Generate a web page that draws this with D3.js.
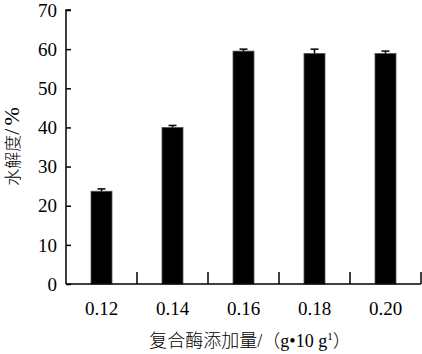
<!DOCTYPE html>
<html>
<head>
<meta charset="utf-8">
<script src="https://cdn.jsdelivr.net/npm/d3@7"></script>
<style>
  body { margin: 0; background: #fff; }
  text { font-family: "Liberation Serif", "Noto Sans CJK SC", serif; fill: #000; }
</style>
</head>
<body>
<svg id="canvas" width="422" height="354"></svg>
<script>
const categories = ["0.12", "0.14", "0.16", "0.18", "0.20"]
const values = [23.7, 40.0, 59.5, 58.9, 58.9]
const errors = [0.6, 0.5, 0.5, 1.1, 0.6]
const yTicks = [0, 10, 20, 30, 40, 50, 60, 70]

const margin = { left: 66, right: 1, top: 10, bottom: 70 }
const width = 422
const height = 354

let svg = d3.select("#canvas")

const xScale = d3.scaleBand()
    .domain(categories)
    .range([margin.left, width - margin.right])

const yScale = d3.scaleLinear()
    .domain([0, 70])
    .range([height - margin.bottom, margin.top])

const data = categories.map((c, i) => ({ cat: c, value: values[i], err: errors[i] }))

// bars
const barW = 21
svg.selectAll(".bar")
    .data(data)
    .enter()
    .append("rect")
    .attr("class", "bar")
    .attr("x", d => xScale(d.cat) + xScale.bandwidth() / 2 - barW / 2)
    .attr("y", d => yScale(d.value))
    .attr("width", barW)
    .attr("height", d => yScale(0) - yScale(d.value))
    .attr("fill", "#000")
    .attr("stroke", "#555")
    .attr("stroke-width", 0.8)

// error bars (upper only)
const err = svg.selectAll(".err")
    .data(data)
    .enter()
    .append("g")
    .attr("class", "err")
err.append("line")
    .attr("x1", d => xScale(d.cat) + xScale.bandwidth() / 2)
    .attr("x2", d => xScale(d.cat) + xScale.bandwidth() / 2)
    .attr("y1", d => yScale(d.value))
    .attr("y2", d => yScale(d.value + d.err))
    .attr("stroke", "#000")
    .attr("stroke-width", 1.5)
err.append("line")
    .attr("x1", d => xScale(d.cat) + xScale.bandwidth() / 2 - 4)
    .attr("x2", d => xScale(d.cat) + xScale.bandwidth() / 2 + 4)
    .attr("y1", d => yScale(d.value + d.err))
    .attr("y2", d => yScale(d.value + d.err))
    .attr("stroke", "#000")
    .attr("stroke-width", 1.5)

// y axis
const yAxis = d3.axisRight(yScale)
    .tickValues(yTicks)
    .tickSize(5)
    .tickFormat("")
const gy = svg.append("g")
    .attr("transform", "translate(" + margin.left + ",0)")
    .call(yAxis)
gy.select(".domain").attr("d", "M0," + yScale(0) + "V" + yScale(70) + "H5")
gy.selectAll("path, line").attr("stroke", "#000").attr("stroke-width", 1.5)

svg.selectAll(".ylab")
    .data(yTicks)
    .enter()
    .append("text")
    .attr("class", "ylab")
    .attr("x", margin.left - 9)
    .attr("y", d => yScale(d))
    .attr("dy", "0.35em")
    .attr("text-anchor", "end")
    .attr("font-size", 19)
    .text(d => d)

// x axis: line with upward separators between categories
const xAxisG = svg.append("g")
xAxisG.append("line")
    .attr("x1", margin.left)
    .attr("x2", width - margin.right)
    .attr("y1", yScale(0))
    .attr("y2", yScale(0))
    .attr("stroke", "#000")
    .attr("stroke-width", 1.5)
xAxisG.selectAll(".sep")
    .data(categories)
    .enter()
    .append("line")
    .attr("x1", d => xScale(d) + xScale.bandwidth())
    .attr("x2", d => xScale(d) + xScale.bandwidth())
    .attr("y1", yScale(0))
    .attr("y2", yScale(0) - 12)
    .attr("stroke", "#000")
    .attr("stroke-width", 1.5)

svg.selectAll(".xlab")
    .data(categories)
    .enter()
    .append("text")
    .attr("class", "xlab")
    .attr("x", d => xScale(d) + xScale.bandwidth() / 2)
    .attr("y", yScale(0) + 31)
    .attr("text-anchor", "middle")
    .attr("font-size", 19)
    .text(d => d)

// axis titles
const xTitle = svg.append("text")
    .attr("x", 250)
    .attr("y", 347)
    .attr("text-anchor", "middle")
    .attr("font-size", 18)
    .attr("font-weight", 300)
xTitle.append("tspan").text("复合酶添加量/（g•10 g")
xTitle.append("tspan").attr("font-size", 11).attr("dy", -7).text("1")
xTitle.append("tspan").attr("dy", 7).text("）")

const yTitle = svg.append("text")
    .attr("transform", "translate(19,145) rotate(-90)")
    .attr("text-anchor", "middle")
    .attr("font-size", 17)
    .attr("font-weight", 300)
yTitle.append("tspan").text("水解度")
yTitle.append("tspan").attr("font-size", 22).attr("letter-spacing", 3).text("/%")
</script>
</body>
</html>
